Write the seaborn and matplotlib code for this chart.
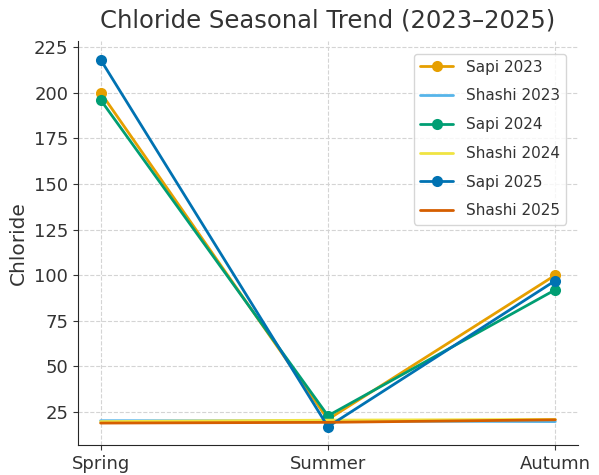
import numpy as np
import pandas as pd
import seaborn as sns
import matplotlib.pyplot as plt

seasons = ["Spring", "Summer", "Autumn"]

sapi_2023 = [200, 21, 100]
sapi_2024 = [196, 23, 92]
sapi_2025 = [218, 17, 97]
shashi_2023 = [20.3, 20.2, 19.8]
shashi_2024 = [19.8, 20.6, 21.0]
shashi_2025 = [19.0, 19.4, 20.8]

series = [
    ("Sapi 2023", sapi_2023, "#E69F00", "o"),
    ("Shashi 2023", shashi_2023, "#56B4E9", None),
    ("Sapi 2024", sapi_2024, "#009E73", "o"),
    ("Shashi 2024", shashi_2024, "#F0E442", None),
    ("Sapi 2025", sapi_2025, "#0072B2", "o"),
    ("Shashi 2025", shashi_2025, "#D55E00", None),
]

sns.set_style("ticks")
plt.rcParams['font.family'] = ['DejaVu Sans']

fig = plt.figure(figsize=(5.99, 4.75), dpi=100)
ax = fig.add_axes([0.13, 0.063, 0.835, 0.85])

for name, vals, color, marker in series:
    df = pd.DataFrame({"Season": seasons, "Chloride": vals})
    sns.lineplot(data=df, x="Season", y="Chloride", ax=ax, color=color,
                 marker=marker, markersize=8, markeredgewidth=0,
                 linewidth=2, label=name, sort=False)

ax.set_yticks(np.arange(25, 226, 25))
ax.grid(True, linestyle="--", color="#d4d4d4", linewidth=0.8)
ax.set_axisbelow(True)
ax.set_xlabel("")
ax.set_ylabel("Chloride", fontsize=14.5, color="#333333")
ax.tick_params(labelsize=13, colors="#333333")
ax.set_title("Chloride Seasonal Trend (2023\u20132025)", fontsize=17.5, color="#333333", pad=10)
for s in ["top", "right"]:
    ax.spines[s].set_visible(False)

leg = ax.legend(loc="upper right", fontsize=11, frameon=True, labelspacing=0.9,
                handlelength=2.2, borderaxespad=0.8)
for t in leg.get_texts():
    t.set_color("#333333")

plt.savefig("out.png", dpi=100)
